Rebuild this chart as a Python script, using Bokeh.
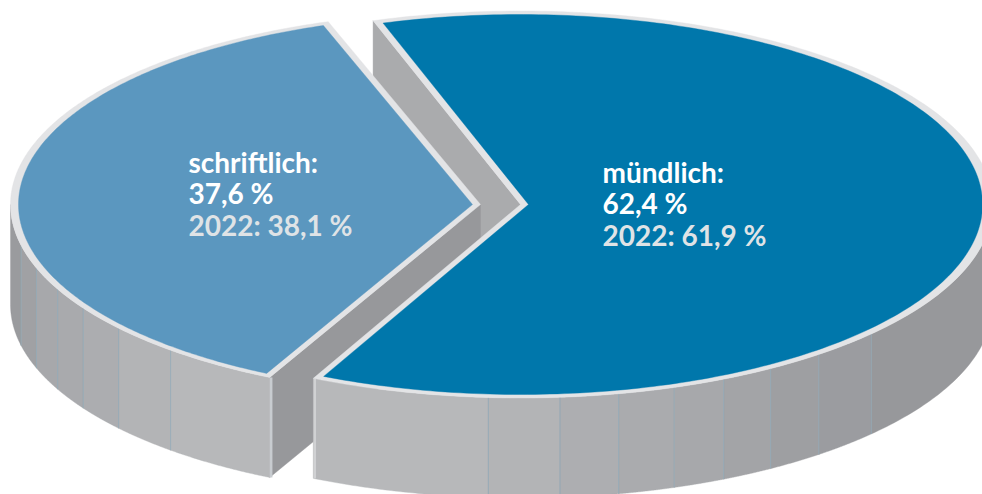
import numpy as np
from bokeh.plotting import figure
from bokeh.models import Range1d
from bokeh.core.properties import value
from bokeh.embed import file_html
from bokeh.resources import INLINE

# ---- data ----
categories = ["schriftlich", "mündlich"]
shares_2023 = [37.6, 62.4]
labels_2023 = ["37,6 %", "62,4 %"]
labels_2022 = ["2022: 38,1 %", "2022: 61,9 %"]

# ---- style ----
FILL = ["#5b97bf", "#0077ab"]
RIM = "#e3e4e6"
LEFT_PANEL_EDGES = [180, 192.3, 199.3, 206.1, 212.6, 220, 229.2]
LEFT_PANEL_GRAYS = ["#9a9b9e", "#a0a1a4", "#a7a8ab", "#a9aaad", "#acadb0", "#b3b4b6", "#b7b8ba"]
RIGHT_PANEL_EDGES = [266.1, 274.8, 282, 289, 295.5, 302, 309.2, 318]
RIGHT_PANEL_GRAYS = ["#b7b8ba", "#b3b4b6", "#adaeb1", "#aaabae", "#a7a8ab", "#a3a4a7", "#9e9fa2", "#9b9ca0", "#97989b"]
SEP = "#8fa7b5"

# ---- geometry (pixels of the page) ----
START = 108.2
ANGLE_TWEAK = 0.4
DEPTH = 100
CY = 204
L = dict(cx=472, rx_o=462, ry_o=192.5, rx_i=454, ry_i=189.5, apex_o=480, apex_i=472)
R = dict(cx=520, rx_o=472, ry_o=193.5, rx_i=462, ry_i=190, apex_o=520, apex_i=528)


def pt(g, t, outer=True):
    rx, ry = (g["rx_o"], g["ry_o"]) if outer else (g["rx_i"], g["ry_i"])
    a = np.radians(t)
    return g["cx"] + rx * np.cos(a), CY - ry * np.sin(a)


def arc(g, t0, t1, outer=True, n=240):
    return pt(g, np.linspace(t0, t1, n), outer)


def inner_t(g, t):
    """Angle on the inner ellipse of the edge parallel to the outer cut."""
    ox, oy = pt(g, t, True)
    dx, dy = ox - g["apex_o"], oy - CY
    ts = np.linspace(t - 8, t + 8, 3201)
    x, y = pt(g, ts, False)
    cross = (x - g["apex_i"]) * dy - (y - CY) * dx
    return ts[np.argmin(np.abs(cross))]


def outer_sector(g, t0, t1):
    x, y = arc(g, t0, t1, True)
    return np.r_[g["apex_o"], x], np.r_[CY, y]


def inner_sector(g, t0, t1):
    x, y = arc(g, inner_t(g, t0), inner_t(g, t1), False)
    return np.r_[g["apex_i"], x], np.r_[CY, y]


def band(g, t0, t1):
    x, y = arc(g, t0, t1, True, 60)
    return np.r_[x, x[::-1]], np.r_[y, y[::-1] + DEPTH]


split_a = START
split_b = START + 360 * shares_2023[0] / sum(shares_2023) + ANGLE_TWEAK
right_b = START + 360

p = figure(width=982, height=494, x_range=Range1d(0, 982), y_range=Range1d(494, 0),
           toolbar_location=None, output_backend="svg", min_border=0,
           background_fill_color="white", border_fill_color="white", outline_line_color=None)
p.axis.visible = False
p.grid.visible = False


def poly(x, y, c):
    p.patch(list(x), list(y), fill_color=c, line_color=c, line_width=0.4)


def cut_face(g, t, c):
    ax = g["apex_o"]
    tx, ty = pt(g, t)
    poly([ax, tx, tx, ax], [CY, ty, ty + DEPTH, CY + DEPTH], c)


def seam(g, t, c, w, dx=0.0):
    x, y = pt(g, t)
    p.line([x + dx, x + dx], [y, y + DEPTH], line_color=c, line_width=w)


# cut face of the right piece, upper edge
cut_face(R, right_b, "#aaabad")

# left piece: cut face, side panels, top
cut_face(L, split_b, "#97989b")
edges = LEFT_PANEL_EDGES + [split_b]
for a, b, c in zip(edges[:-1], edges[1:], LEFT_PANEL_GRAYS):
    poly(*band(L, a, b), c)
for e in LEFT_PANEL_EDGES[1:]:
    seam(L, e, SEP, 0.8)
seam(L, split_b, "#c8ccd0", 2.5, 1.5)
poly(*outer_sector(L, split_a, split_b), RIM)
poly(*inner_sector(L, split_a, split_b), FILL[0])

# right piece: side panels, top
edges = [split_b] + RIGHT_PANEL_EDGES + [360]
for a, b, c in zip(edges[:-1], edges[1:], RIGHT_PANEL_GRAYS):
    poly(*band(R, a, b), c)
for e in RIGHT_PANEL_EDGES:
    seam(R, e, SEP, 0.8)
seam(R, split_b, "#d0d1d3", 2.5, 1.5)
poly(*outer_sector(R, split_b, right_b), RIM)
poly(*inner_sector(R, split_b, right_b), FILL[1])

# labels
FONT = value("Lato")
SIZE = "28px"
label_x = [188, 602]
label_y = [161, 171]
LINE = 31.5
for i, name in enumerate(categories):
    lines = [(name + ":", "white"), (labels_2023[i], "white"), (labels_2022[i], "#dfe3e6")]
    for j, (s, c) in enumerate(lines):
        p.text([label_x[i]], [label_y[i] + j * LINE], text=[s], text_color=c, text_font=FONT,
               text_font_size=SIZE, text_font_style="bold", text_baseline="alphabetic", text_align="left")

open("out.html", "w").write(file_html(p, INLINE))
